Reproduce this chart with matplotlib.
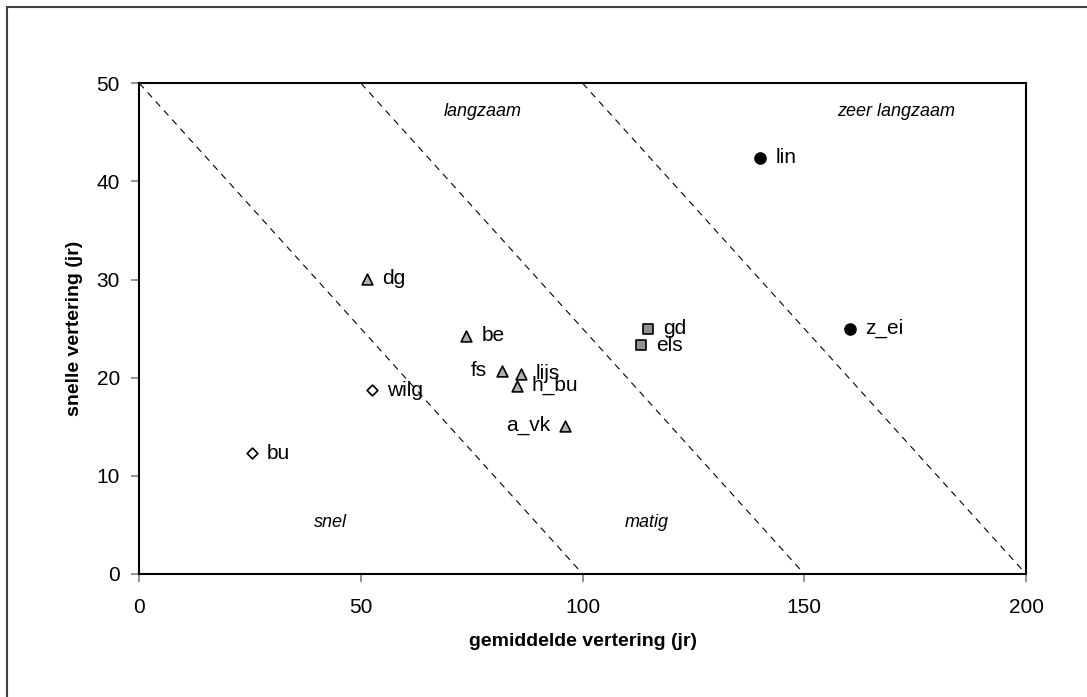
import matplotlib
matplotlib.use("Agg")
import matplotlib.pyplot as plt
from matplotlib.patches import Rectangle

plt.rcParams['font.family'] = ['Liberation Sans', 'DejaVu Sans']

# data
names = ["bu", "wilg", "dg", "be", "fs", "lijs", "h_bu", "a_vk", "gd", "els", "lin", "z_ei"]
gem = [25.3, 52.5, 51.4, 73.7, 81.9, 86.0, 85.1, 96.1, 114.8, 113.1, 140.0, 160.2]
snel = [12.3, 18.7, 30.1, 24.3, 20.7, 20.4, 19.2, 15.1, 25.0, 23.3, 42.4, 25.0]
groups = ["diamond", "diamond", "tri", "tri", "tri", "tri", "tri", "tri", "sq", "sq", "dot", "dot"]
left_labels = ["fs", "a_vk"]

# class boundaries: (x at y=50, x at y=0)
bounds_top = [0, 50, 100]
bounds_bottom = [100, 150, 200]
region_names = ["langzaam", "zeer langzaam", "snel", "matig"]
region_x = [77.5, 170.8, 43.0, 114.4]
region_y = [47.1, 47.1, 5.2, 5.2]

styles = {
    "diamond": dict(marker="D", s=30, facecolor="white", edgecolor="black", linewidths=1.2),
    "tri": dict(marker="^", s=60, facecolor="#b0b0b0", edgecolor="black", linewidths=1.2),
    "sq": dict(marker="s", s=50, facecolor="#909090", edgecolor="black", linewidths=1.2),
    "dot": dict(marker="o", s=65, facecolor="black", edgecolor="black", linewidths=1.0),
}

fig = plt.figure(figsize=(10.87, 6.97), dpi=100)
ax = fig.add_axes([0.1282, 0.1765, 0.8157, 0.704])

for x0, x1 in zip(bounds_top, bounds_bottom):
    ax.plot([x0, x1], [50, 0], color="black", lw=0.8, linestyle=(0, (6, 5)))

for g in styles:
    xs = [x for x, gg in zip(gem, groups) if gg == g]
    ys = [y for y, gg in zip(snel, groups) if gg == g]
    ax.scatter(xs, ys, zorder=3, clip_on=False, **styles[g])

for n, x, y in zip(names, gem, snel):
    if n in left_labels:
        ax.annotate(n, (x, y), textcoords="offset points", xytext=(-11, 0),
                    ha="right", va="center", fontsize=15)
    else:
        ax.annotate(n, (x, y), textcoords="offset points", xytext=(11, 0),
                    ha="left", va="center", fontsize=15)

for t, x, y in zip(region_names, region_x, region_y):
    ax.text(x, y, t, ha="center", va="center", fontsize=13, style="italic")

ax.set_xlim(0, 200)
ax.set_ylim(0, 50)
ax.set_xticks([0, 50, 100, 150, 200])
ax.set_yticks([0, 10, 20, 30, 40, 50])
for s in ax.spines.values():
    s.set_linewidth(1.5)
ax.tick_params(axis="both", direction="out", length=6, width=1.2, color="#808080",
               labelsize=15)
ax.tick_params(axis="x", pad=11)
ax.tick_params(axis="y", pad=8)
ax.set_xlabel("gemiddelde vertering (jr)", fontsize=14, fontweight="bold", labelpad=12)
ax.set_ylabel("snelle vertering (jr)", fontsize=14, fontweight="bold", labelpad=10)

# outer frame (only left and top edges visible)
fig.patches.append(Rectangle((7 / 1087, -0.1), 1.2, 1.1 - 7 / 697,
                             transform=fig.transFigure, fill=False,
                             edgecolor="#404040", linewidth=1.5))

fig.savefig("out.png", dpi=100, facecolor="white")
